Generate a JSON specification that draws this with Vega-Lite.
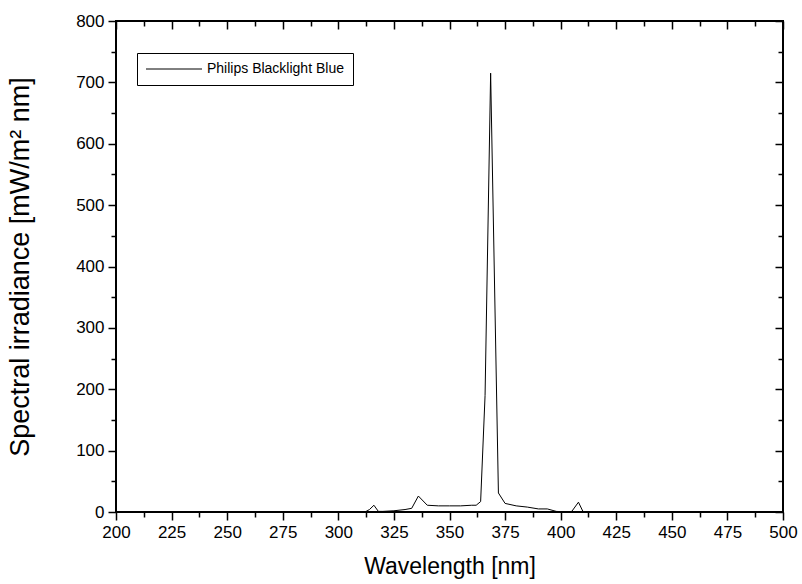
{
  "$schema": "https://vega.github.io/schema/vega-lite/v6.json",
  "width": 667,
  "height": 491,
  "autosize": "none",
  "padding": {"left": 116, "top": 21, "right": 19, "bottom": 72},
  "background": "white",
  "config": {
    "view": {"stroke": "black", "strokeWidth": 2},
    "font": "Liberation Sans",
    "axis": {"labelFont": "Liberation Sans", "titleFont": "Liberation Sans", "labelColor": "black", "titleColor": "black", "titleFontWeight": "normal", "tickColor": "black", "tickWidth": 1.5, "domain": false, "grid": false}
  },
  "data": {"values": [
    {"w": 312, "v": 0, "s": "Philips Blacklight Blue"},
    {"w": 314, "v": 4, "s": "Philips Blacklight Blue"},
    {"w": 316, "v": 11, "s": "Philips Blacklight Blue"},
    {"w": 318, "v": 1, "s": "Philips Blacklight Blue"},
    {"w": 320, "v": 1, "s": "Philips Blacklight Blue"},
    {"w": 325, "v": 2, "s": "Philips Blacklight Blue"},
    {"w": 330, "v": 4, "s": "Philips Blacklight Blue"},
    {"w": 333, "v": 6, "s": "Philips Blacklight Blue"},
    {"w": 336, "v": 26, "s": "Philips Blacklight Blue"},
    {"w": 340, "v": 11, "s": "Philips Blacklight Blue"},
    {"w": 345, "v": 10, "s": "Philips Blacklight Blue"},
    {"w": 350, "v": 10, "s": "Philips Blacklight Blue"},
    {"w": 355, "v": 10, "s": "Philips Blacklight Blue"},
    {"w": 360, "v": 11, "s": "Philips Blacklight Blue"},
    {"w": 362, "v": 11, "s": "Philips Blacklight Blue"},
    {"w": 364, "v": 17, "s": "Philips Blacklight Blue"},
    {"w": 366, "v": 190, "s": "Philips Blacklight Blue"},
    {"w": 368.5, "v": 715, "s": "Philips Blacklight Blue"},
    {"w": 372, "v": 31, "s": "Philips Blacklight Blue"},
    {"w": 375, "v": 14, "s": "Philips Blacklight Blue"},
    {"w": 380, "v": 10, "s": "Philips Blacklight Blue"},
    {"w": 385, "v": 8, "s": "Philips Blacklight Blue"},
    {"w": 390, "v": 5, "s": "Philips Blacklight Blue"},
    {"w": 394, "v": 5, "s": "Philips Blacklight Blue"},
    {"w": 398, "v": 1, "s": "Philips Blacklight Blue"},
    {"w": 402, "v": 0, "s": "Philips Blacklight Blue"},
    {"w": 405, "v": 1, "s": "Philips Blacklight Blue"},
    {"w": 408, "v": 16, "s": "Philips Blacklight Blue"},
    {"w": 410, "v": 1, "s": "Philips Blacklight Blue"},
    {"w": 412, "v": 0, "s": "Philips Blacklight Blue"}
  ]},
  "layer": [
    {
      "mark": {"type": "line", "strokeWidth": 1},
      "encoding": {
        "x": {"field": "w", "type": "quantitative", "scale": {"domain": [200, 500], "nice": false, "zero": false},
          "axis": {"orient": "bottom", "title": "Wavelength [nm]", "values": [200,212.5,225,237.5,250,262.5,275,287.5,300,312.5,325,337.5,350,362.5,375,387.5,400,412.5,425,437.5,450,462.5,475,487.5,500],
            "labelExpr": "datum.value % 25 === 0 ? datum.label : ''", "labelFontSize": 17, "titleFontSize": 23, "tickSize": {"condition": {"test": "datum.value % 25 === 0", "value": 8}, "value": 5}, "labelPadding": 4, "titlePadding": 15, "labelFlush": false}},
        "y": {"field": "v", "type": "quantitative", "scale": {"domain": [0, 800], "nice": false},
          "axis": {"orient": "left", "title": "Spectral irradiance [mW/m² nm]", "values": [0,50,100,150,200,250,300,350,400,450,500,550,600,650,700,750,800],
            "labelExpr": "datum.value % 100 === 0 ? datum.label : ''", "labelFontSize": 17, "titleFontSize": 27, "tickSize": {"condition": {"test": "datum.value % 100 === 0", "value": 8}, "value": 5}, "labelPadding": 4, "titlePadding": 41, "labelFlush": false}},
        "color": {"field": "s", "type": "nominal", "scale": {"range": ["black"]},
          "legend": {"title": null, "orient": "none", "legendX": 21, "legendY": 32, "symbolType": "M-7,0H7", "symbolSize": 64, "symbolStrokeWidth": 1, "labelFontSize": 14, "labelLimit": 400, "labelFont": "Liberation Sans", "labelColor": "black", "strokeColor": "black", "fillColor": "white", "padding": 9, "labelOffset": 47,
            "encode": {"symbols": {"update": {"x": {"value": 28}}}}}}
      }
    },
    {
      "mark": {"type": "line", "strokeWidth": 1, "opacity": 0},
      "encoding": {
        "x": {"field": "w", "type": "quantitative",
          "axis": {"orient": "top", "title": null, "values": [200,212.5,225,237.5,250,262.5,275,287.5,300,312.5,325,337.5,350,362.5,375,387.5,400,412.5,425,437.5,450,462.5,475,487.5,500],
            "labels": false, "tickSize": {"condition": {"test": "datum.value % 25 === 0", "value": -8}, "value": -5}}},
        "y": {"field": "v", "type": "quantitative",
          "axis": {"orient": "right", "title": null, "values": [0,50,100,150,200,250,300,350,400,450,500,550,600,650,700,750,800],
            "labels": false, "tickSize": {"condition": {"test": "datum.value % 100 === 0", "value": -8}, "value": -5}}}
      }
    }
  ]
}
